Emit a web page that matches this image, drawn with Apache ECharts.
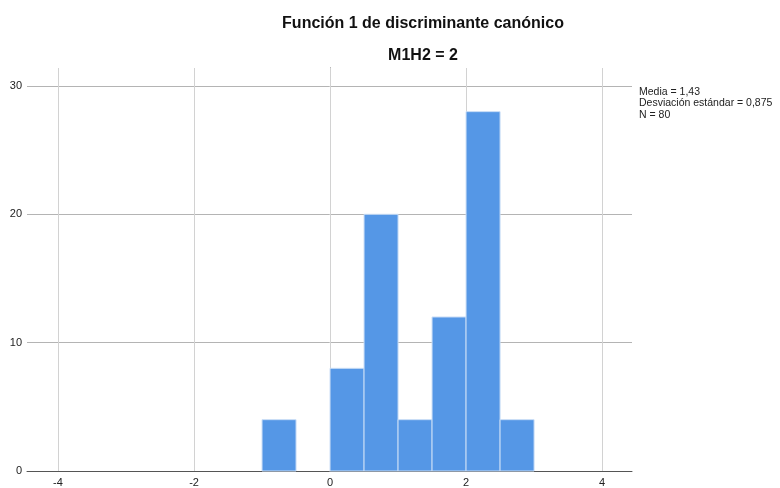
<!DOCTYPE html>
<html>
<head>
    <meta charset="utf-8">
    <script src="https://cdn.jsdelivr.net/npm/echarts@6/dist/echarts.min.js"></script>
</head>
<style>
    *{ margin:0; padding:0; }
    body{ background:#fff; }
    #main{ width:780px; height:488px; }
</style>
<body>
<div id="main"></div>
<script type="text/javascript">
    // histograma: límite inferior de cada clase, ancho de clase y frecuencias
    var binStarts = [-1, 0, 0.5, 1, 1.5, 2, 2.5];
    var binWidth = 0.5;
    var counts = [4, 8, 20, 4, 12, 28, 4];
    var xTicks = [-4, -2, 0, 2, 4];
    var yTicks = [0, 10, 20, 30];
    var statsLines = ['Media = 1,43', 'Desviación estándar = 0,875', 'N = 80'];

    var font = 'Liberation Sans, Arial, sans-serif';
    var myChart = echarts.init(document.getElementById('main'));

    var barData = binStarts.map(function (s, i) { return [s, s + binWidth, counts[i]]; });

    var option = {
        animation: false,
        title: [{
            text: 'Función 1 de discriminante canónico',
            left: 418, top: 11, textAlign: 'center',
            textStyle: { fontFamily: font, fontSize: 16, fontWeight: 'bold', color: '#111' }
        }, {
            text: 'M1H2 = 2',
            left: 418, top: 43, textAlign: 'center',
            textStyle: { fontFamily: font, fontSize: 16, fontWeight: 'bold', color: '#111' }
        }],
        graphic: [{
            type: 'text', left: 639, top: 86,
            style: { text: statsLines.join('\n'), fontFamily: font, fontSize: 10.5, lineHeight: 11.5, fill: '#222' }
        }],
        grid: { left: 27, right: 148, top: 68, bottom: 17 },
        xAxis: {
            type: 'value', min: -4.456, max: 4.44,
            axisLine: { show: true, lineStyle: { color: '#555', width: 1 } },
            axisTick: { show: false },
            splitLine: { show: false },
            axisLabel: { customValues: xTicks, color: '#222', fontFamily: font, fontSize: 11, margin: 6 }
        },
        yAxis: {
            type: 'value', min: 0, max: 31.4, interval: 10,
            axisLine: { show: true, lineStyle: { color: '#555', width: 1 } },
            axisTick: { show: false },
            splitLine: { show: true, showMinLine: false, showMaxLine: false, lineStyle: { color: '#b4b4b4', width: 1 } },
            axisLabel: { customValues: yTicks, color: '#222', fontFamily: font, fontSize: 11, margin: 5 }
        },
        series: [{
            // líneas verticales de cuadrícula
            type: 'line', data: [], z: 1, silent: true,
            markLine: {
                silent: true, symbol: 'none', label: { show: false },
                lineStyle: { color: '#d2d2d2', type: 'solid', width: 1 },
                data: xTicks.map(function (v) { return { xAxis: v }; })
            }
        }, {
            type: 'custom', z: 5,
            data: barData,
            encode: { x: [0, 1], y: 2 },
            renderItem: function (params, api) {
                var p0 = api.coord([api.value(0), api.value(2)]);
                var p1 = api.coord([api.value(1), 0]);
                return {
                    type: 'rect',
                    shape: { x: p0[0], y: p0[1], width: p1[0] - p0[0], height: p1[1] - p0[1] },
                    style: { fill: '#5597e6', stroke: '#c9ddf6', lineWidth: 1 }
                };
            }
        }]
    };

    myChart.setOption(option);
</script>
</body>
</html>
